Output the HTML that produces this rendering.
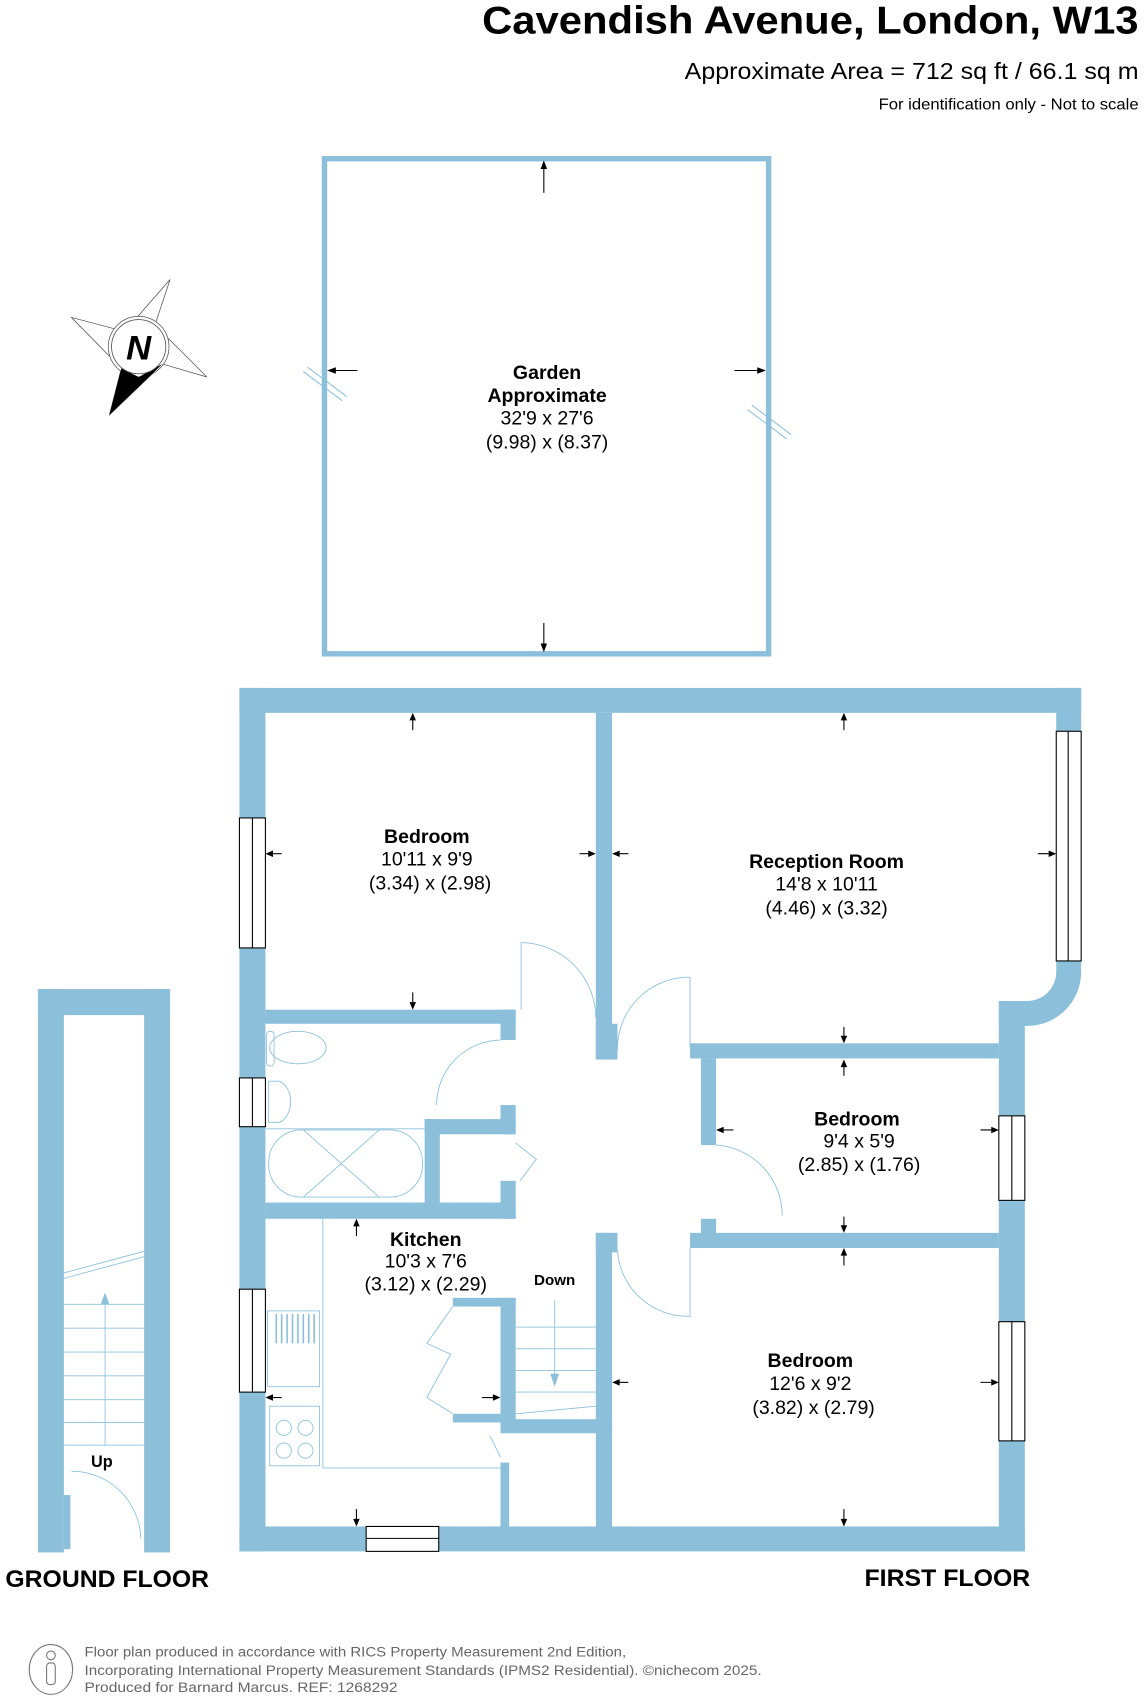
<!DOCTYPE html>
<html><head><meta charset="utf-8"><style>
html,body{margin:0;padding:0;background:#fff}
svg{display:block}
text{font-family:"Liberation Sans",Arial,sans-serif;fill:#000}
</style></head><body>
<svg width="1144" height="1696" viewBox="0 0 1056 1565.5" preserveAspectRatio="none" xmlns="http://www.w3.org/2000/svg">
<rect width="1056" height="1566" fill="#fff"/>
<text x="445" y="31" font-size="36" font-weight="bold" textLength="606" lengthAdjust="spacingAndGlyphs">Cavendish Avenue, London, W13</text>
<text x="632" y="73" font-size="21" textLength="419" lengthAdjust="spacingAndGlyphs">Approximate Area = 712 sq ft / 66.1 sq m</text>
<text x="811" y="101" font-size="14.5" textLength="240" lengthAdjust="spacingAndGlyphs">For identification only - Not to scale</text>

<!-- compass -->
<g stroke="#555" stroke-width="0.7" fill="#fff">
<polygon points="157,258 143,300 191,348 150,336 101,383 112,340 66,293 115,306"/>
<circle cx="128" cy="320" r="28"/>
<circle cx="128" cy="320" r="25"/>
</g>
<polygon points="101,383 112,340 128,348 150,336" fill="#000"/>
<circle cx="128" cy="320" r="25" fill="#fff" stroke="#555" stroke-width="0.7"/>
<text x="128" y="332" font-size="32" font-weight="bold" font-style="italic" text-anchor="middle">N</text>

<!-- garden -->
<rect x="299.5" y="146.5" width="410" height="457" fill="none" stroke="#8cc0da" stroke-width="5"/>
<g stroke="#8cc0da" stroke-width="1"><line x1="280" y1="343" x2="316" y2="370"/><line x1="284" y1="339" x2="320" y2="366"/><line x1="690" y1="378" x2="726" y2="405"/><line x1="694" y1="374" x2="730" y2="401"/></g>
<g fill="#000" font-size="18" text-anchor="middle">
<text x="505" y="350" font-weight="bold">Garden</text>
<text x="505" y="371" font-weight="bold">Approximate</text>
<text x="505" y="392">32'9 x 27'6</text>
<text x="505" y="414">(9.98) x (8.37)</text>
</g>

<!-- ground floor -->
<g fill="#8cc0da">
<rect x="35" y="913" width="122" height="24"/>
<rect x="35" y="913" width="24" height="520"/>
<rect x="133" y="913" width="24" height="520"/>
<rect x="59" y="1380" width="6" height="50"/>
</g>
<g stroke="#8cc0da" stroke-width="0.8" fill="none">
<line x1="59" y1="1175" x2="133" y2="1155"/><line x1="59" y1="1180" x2="133" y2="1160"/>
<line x1="59" y1="1292" x2="133" y2="1292"/>
<line x1="59" y1="1270" x2="133" y2="1270"/><line x1="59" y1="1248" x2="133" y2="1248"/><line x1="59" y1="1226" x2="133" y2="1226"/><line x1="59" y1="1204" x2="133" y2="1204"/><line x1="59" y1="1334" x2="133" y2="1334"/><line x1="59" y1="1313" x2="133" y2="1313"/>
<line x1="97" y1="1334" x2="97" y2="1200"/>
<path d="M66,1358 A64,64 0 0 1 130,1420"/>
</g>
<polygon points="97,1193 93,1204 101,1204" fill="#8cc0da"/>
<text x="94" y="1354" font-size="15" font-weight="bold" text-anchor="middle">Up</text>

<!-- first floor walls -->
<g fill="#8cc0da">
<rect x="221" y="635" width="777" height="23"/>
<rect x="975" y="635" width="23" height="40"/>
<path d="M975,887 h23 v10 a50,50 0 0 1 -50,50 h-26 v-23 h26 a27,27 0 0 0 27,-27 z"/>
<rect x="922" y="924" width="24" height="508"/>
<rect x="221" y="635" width="24" height="797"/>
<rect x="221" y="1409" width="725" height="23"/>
<rect x="550" y="658" width="15" height="320"/>
<rect x="550" y="945" width="20" height="33"/>
<rect x="245" y="932" width="231" height="13"/>
<rect x="462" y="932" width="14" height="28"/>
<rect x="637" y="963" width="285" height="14"/>
<rect x="647" y="977" width="14" height="80"/>
<rect x="647" y="1125" width="14" height="15"/>
<rect x="637" y="1138" width="285" height="14"/>
<rect x="245" y="1110" width="231" height="15"/>
<rect x="392" y="1033" width="14" height="77"/>
<rect x="392" y="1033" width="84" height="14"/>
<rect x="462" y="1020" width="14" height="27"/>
<rect x="462" y="1090" width="14" height="35"/>
<rect x="462" y="1198" width="14" height="122"/>
<rect x="418" y="1198" width="58" height="8"/>
<rect x="418" y="1305" width="58" height="8"/>
<rect x="462" y="1310" width="103" height="13"/>
<rect x="550" y="1138" width="20" height="18"/>
<rect x="550" y="1138" width="15" height="280"/>
<rect x="462" y="1350" width="8" height="60"/>
</g>
<!-- windows -->
<g fill="#fff" stroke="#000" stroke-width="1">
<rect x="221" y="755" width="24" height="120"/><line x1="233" y1="755" x2="233" y2="875"/>
<rect x="221" y="995" width="24" height="45"/><line x1="233" y1="995" x2="233" y2="1040"/>
<rect x="221" y="1190" width="24" height="95"/><line x1="233" y1="1190" x2="233" y2="1285"/>
<rect x="975" y="675" width="23" height="212"/><line x1="986" y1="675" x2="986" y2="887"/>
<rect x="922" y="1030" width="24" height="78"/><line x1="934" y1="1030" x2="934" y2="1108"/>
<rect x="922" y="1220" width="24" height="110"/><line x1="934" y1="1220" x2="934" y2="1330"/>
<rect x="338" y="1409" width="67" height="23"/><line x1="338" y1="1420" x2="405" y2="1420"/>
</g>
<!-- doors, fixtures -->
<g stroke="#8cc0da" stroke-width="0.8" fill="none">
<path d="M481,870 A70,70 0 0 1 550,940"/><line x1="481" y1="870" x2="481" y2="932"/>
<path d="M637,902 A66,66 0 0 0 570,970"/><line x1="637" y1="902" x2="637" y2="968"/>
<path d="M462,960 A60,60 0 0 0 403,1020"/>
<path d="M661,1057 A65,65 0 0 1 722,1122"/>
<path d="M637,1152 V1215 A65,65 0 0 1 570,1155"/>
<path d="M476,1055 L495,1070 L480,1090"/>
<path d="M418,1206 L394,1240 L416,1250 L394,1290 L418,1305"/>
<path d="M452,1325 L462,1345"/>
<line x1="476" y1="1305" x2="550" y2="1298"/>
<line x1="476" y1="1225" x2="550" y2="1225"/><line x1="476" y1="1245" x2="550" y2="1245"/><line x1="476" y1="1265" x2="550" y2="1265"/><line x1="476" y1="1285" x2="550" y2="1285"/>
<line x1="512" y1="1200" x2="512" y2="1275"/>
<rect x="248" y="1043" width="142" height="62" rx="30"/>
<line x1="245" y1="1042" x2="392" y2="1042"/>
<line x1="280" y1="1043" x2="350" y2="1105"/><line x1="350" y1="1043" x2="280" y2="1105"/>
<ellipse cx="275" cy="967" rx="26" ry="15"/>
<rect x="246" y="952" width="7" height="32" rx="3"/>
<path d="M248,998 h10 a15,20 0 0 1 0,38 h-10 z"/>
<line x1="298" y1="1125" x2="298" y2="1355"/><line x1="298" y1="1355" x2="462" y2="1355"/>
<rect x="247" y="1210" width="48" height="70"/>
<rect x="249" y="1298" width="46" height="55"/>
<circle cx="262" cy="1318" r="7"/><circle cx="282" cy="1318" r="7"/><circle cx="262" cy="1339" r="7"/><circle cx="282" cy="1339" r="7"/>
</g>
<g stroke="#8cc0da" stroke-width="1.5">
<line x1="255" y1="1213" x2="255" y2="1240"/><line x1="260" y1="1213" x2="260" y2="1240"/><line x1="265" y1="1213" x2="265" y2="1240"/><line x1="270" y1="1213" x2="270" y2="1240"/><line x1="275" y1="1213" x2="275" y2="1240"/><line x1="280" y1="1213" x2="280" y2="1240"/><line x1="285" y1="1213" x2="285" y2="1240"/><line x1="290" y1="1213" x2="290" y2="1240"/>
</g>
<polygon points="512,1280 508,1268 516,1268" fill="#8cc0da"/>

<!-- measurement arrows -->
<g stroke="#000" stroke-width="1" fill="#000">
<line x1="502" y1="150" x2="502" y2="178"/><line x1="502" y1="575" x2="502" y2="600"/>
<line x1="304" y1="342" x2="330" y2="342"/><line x1="678" y1="342" x2="705" y2="342"/>
<line x1="381" y1="660" x2="381" y2="674"/><line x1="381" y1="916" x2="381" y2="930"/>
<line x1="247" y1="788" x2="260" y2="788"/><line x1="535" y1="788" x2="548" y2="788"/>
<line x1="567" y1="788" x2="580" y2="788"/><line x1="958" y1="788" x2="973" y2="788"/>
<line x1="779" y1="660" x2="779" y2="674"/><line x1="779" y1="948" x2="779" y2="961"/>
<line x1="779" y1="980" x2="779" y2="993"/><line x1="779" y1="1123" x2="779" y2="1136"/>
<line x1="663" y1="1043" x2="677" y2="1043"/><line x1="905" y1="1043" x2="920" y2="1043"/>
<line x1="779" y1="1154" x2="779" y2="1168"/><line x1="779" y1="1393" x2="779" y2="1407"/>
<line x1="567" y1="1276" x2="580" y2="1276"/><line x1="905" y1="1276" x2="920" y2="1276"/>
<line x1="329" y1="1127" x2="329" y2="1141"/><line x1="329" y1="1393" x2="329" y2="1407"/>
<line x1="247" y1="1290" x2="260" y2="1290"/><line x1="445" y1="1290" x2="460" y2="1290"/>
</g>
<g fill="#000">
<polygon points="502,148 499,156 505,156"/><polygon points="502,602 499,594 505,594"/>
<polygon points="302,342 310,339 310,345"/><polygon points="707,342 699,339 699,345"/>
<polygon points="381,658 378,665 384,665"/><polygon points="381,932 378,925 384,925"/>
<polygon points="245,788 252,785 252,791"/><polygon points="550,788 543,785 543,791"/>
<polygon points="565,788 572,785 572,791"/><polygon points="975,788 968,785 968,791"/>
<polygon points="779,658 776,665 782,665"/><polygon points="779,963 776,956 782,956"/>
<polygon points="779,978 776,985 782,985"/><polygon points="779,1138 776,1131 782,1131"/>
<polygon points="661,1043 668,1040 668,1046"/><polygon points="922,1043 915,1040 915,1046"/>
<polygon points="779,1152 776,1159 782,1159"/><polygon points="779,1409 776,1402 782,1402"/>
<polygon points="565,1276 572,1273 572,1279"/><polygon points="922,1276 915,1273 915,1279"/>
<polygon points="329,1125 326,1132 332,1132"/><polygon points="329,1409 326,1402 332,1402"/>
<polygon points="245,1290 252,1287 252,1293"/><polygon points="462,1290 455,1287 455,1293"/>
</g>

<g font-size="18" text-anchor="middle">
<text x="394" y="778" font-weight="bold">Bedroom</text><text x="394" y="799">10'11 x 9'9</text><text x="397" y="821">(3.34) x (2.98)</text>
<text x="763" y="801" font-weight="bold">Reception Room</text><text x="763" y="822">14'8 x 10'11</text><text x="763" y="844">(4.46) x (3.32)</text>
<text x="791" y="1039" font-weight="bold">Bedroom</text><text x="793" y="1059">9'4 x 5'9</text><text x="793" y="1081">(2.85) x (1.76)</text>
<text x="393" y="1150" font-weight="bold">Kitchen</text><text x="393" y="1170">10'3 x 7'6</text><text x="393" y="1191">(3.12) x (2.29)</text>
<text x="748" y="1262" font-weight="bold">Bedroom</text><text x="748" y="1283">12'6 x 9'2</text><text x="751" y="1305">(3.82) x (2.79)</text>
</g>
<text x="512" y="1186" font-size="14" font-weight="bold" text-anchor="middle">Down</text>

<text x="5" y="1465" font-size="22" font-weight="bold" textLength="188" lengthAdjust="spacingAndGlyphs">GROUND FLOOR</text>
<text x="798" y="1464" font-size="22" font-weight="bold" textLength="153" lengthAdjust="spacingAndGlyphs">FIRST FLOOR</text>

<ellipse cx="47" cy="1541" rx="20" ry="23" fill="none" stroke="#777" stroke-width="1"/>
<circle cx="47" cy="1528" r="4" fill="none" stroke="#777"/>
<rect x="43" y="1535" width="8" height="20" rx="3" fill="none" stroke="#777"/>
<g font-size="13">
<text x="78" y="1529" fill="#666" style="fill:#666" textLength="500" lengthAdjust="spacingAndGlyphs">Floor plan produced in accordance with RICS Property Measurement 2nd Edition,</text>
<text x="78" y="1546" style="fill:#666" textLength="625" lengthAdjust="spacingAndGlyphs">Incorporating International Property Measurement Standards (IPMS2 Residential).   ©nichecom 2025.</text>
<text x="78" y="1562" style="fill:#666" textLength="289" lengthAdjust="spacingAndGlyphs">Produced for Barnard Marcus.   REF:  1268292</text>
</g>
</svg>
</body></html>
